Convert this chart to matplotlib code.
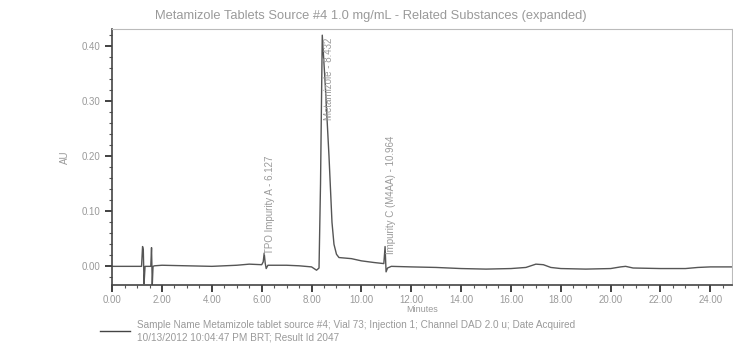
import matplotlib
matplotlib.use("Agg")
import matplotlib.pyplot as plt
from matplotlib.ticker import MultipleLocator, FormatStrFormatter

plt.rcParams['font.family'] = ['Liberation Sans', 'DejaVu Sans']

# Chromatogram trace (minutes, AU)
time_min = [0.00, 1.00, 1.18, 1.22, 1.25, 1.28, 1.32, 1.45, 1.55, 1.58, 1.61, 1.64, 1.70,
            2.00, 3.00, 4.00, 5.00, 5.50, 6.00, 6.06, 6.10, 6.14, 6.18, 6.25, 7.00, 7.50,
            8.00, 8.20, 8.30, 8.36, 8.43, 8.55, 8.70, 8.82, 8.90, 9.00, 9.10, 9.60, 10.00,
            10.50, 10.90, 10.95, 10.99, 11.05, 11.20, 12.00, 13.00, 14.00, 15.00, 16.00,
            16.60, 17.00, 17.30, 17.60, 18.00, 19.00, 20.00, 20.40, 20.60, 20.90, 22.00,
            23.00, 23.50, 24.00, 24.90]
absorbance = [0.000, 0.000, 0.000, 0.036, 0.030, -0.032, 0.000, 0.000, 0.000, 0.034, -0.034, 0.000, 0.001,
              0.002, 0.001, 0.000, 0.002, 0.004, 0.003, 0.008, 0.024, 0.006, -0.004, 0.002, 0.002, 0.001,
              -0.001, -0.007, -0.003, 0.150, 0.420, 0.330, 0.200, 0.080, 0.040, 0.022, 0.016, 0.014, 0.010,
              0.007, 0.005, 0.036, -0.010, -0.003, 0.000, -0.001, -0.002, -0.004, -0.005, -0.004,
              -0.002, 0.004, 0.003, -0.002, -0.004, -0.005, -0.004, -0.001, 0.000, -0.003, -0.004,
              -0.004, -0.002, -0.001, -0.001]

peak_times = [6.10, 8.43, 10.95]
peak_labels = ["TPO Impurity A - 6.127", "Metamizole - 8.432", "Impurity C (M4AA) - 10.964"]
peak_label_y = [0.022, 0.265, 0.022]

x_ticks = [0, 2, 4, 6, 8, 10, 12, 14, 16, 18, 20, 22, 24]
y_ticks = [0.00, 0.10, 0.20, 0.30, 0.40]

title = "Metamizole Tablets Source #4 1.0 mg/mL - Related Substances (expanded)"
legend_text = ("Sample Name Metamizole tablet source #4; Vial 73; Injection 1; Channel DAD 2.0 u; Date Acquired\n"
               "10/13/2012 10:04:47 PM BRT; Result Id 2047")

text_col = "#9a9a9a"
line_col = "#555555"

fig = plt.figure(figsize=(7.33, 3.55), dpi=100)
ax = fig.add_axes([0.153, 0.197, 0.845, 0.721])
ax.plot(time_min, absorbance, color=line_col, lw=1.0)

for t, lab, yy in zip(peak_times, peak_labels, peak_label_y):
    ax.text(t + 0.05, yy, lab, rotation=90, fontsize=7, color=text_col,
            ha='left', va='bottom')

ax.set_xlim(0, 24.85)
ax.set_ylim(-0.034, 0.431)
ax.set_xticks(x_ticks)
ax.set_yticks(y_ticks)
ax.xaxis.set_major_formatter(FormatStrFormatter('%.2f'))
ax.yaxis.set_major_formatter(FormatStrFormatter('%.2f'))
ax.xaxis.set_minor_locator(MultipleLocator(0.5))
ax.yaxis.set_minor_locator(MultipleLocator(0.02))
ax.tick_params(axis='both', which='major', labelsize=7, labelcolor=text_col,
               color='#333333', length=5, width=1.3)
ax.tick_params(axis='x', which='major', pad=2)
ax.tick_params(axis='both', which='minor', color='#555555', length=2.5, width=0.8)
for side in ['top', 'right']:
    ax.spines[side].set_color('#bbbbbb')
    ax.spines[side].set_linestyle((0, (1, 1)))
for side in ['left', 'bottom']:
    ax.spines[side].set_color('#444444')
    ax.spines[side].set_linewidth(1.2)

ax.set_xlabel("Minutes", fontsize=6.5, color=text_col, labelpad=0)
ax.set_ylabel("AU", fontsize=7, color=text_col, labelpad=8)

fig.text(0.506, 0.955, title, ha='center', va='center', fontsize=9.3, color=text_col)

fig.add_artist(plt.Line2D([0.136, 0.178], [0.068, 0.068], color='#444444', lw=1.0))
fig.text(0.187, 0.068, legend_text, ha='left', va='center', fontsize=7.2,
         color=text_col, linespacing=1.3)

fig.savefig("out.png", dpi=100)
